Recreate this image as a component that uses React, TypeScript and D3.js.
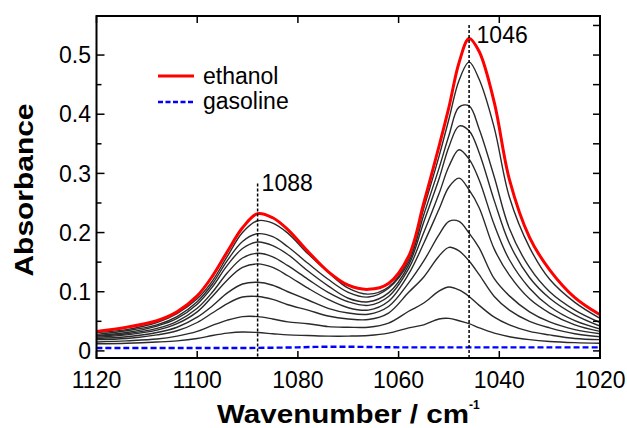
import React from "react";
import * as d3 from "d3";

// Wavenumber grid (cm-1) for the spectra
const wavenumbers = [1120, 1114, 1108, 1104, 1100, 1097, 1094, 1091, 1088, 1085, 1082, 1078, 1074, 1070, 1066, 1062, 1058, 1055, 1052, 1050, 1048, 1046, 1044, 1041, 1038, 1034, 1030, 1025, 1020];

// Pure ethanol (red)
const ethanol = [0.033, 0.040, 0.051, 0.066, 0.093, 0.126, 0.168, 0.208, 0.232, 0.225, 0.205, 0.168, 0.134, 0.111, 0.104, 0.114, 0.160, 0.250, 0.345, 0.412, 0.487, 0.528, 0.506, 0.420, 0.290, 0.192, 0.137, 0.090, 0.061];

// Ethanol–gasoline blends (black), highest to lowest
const blend1 = [0.031, 0.036, 0.048, 0.063, 0.088, 0.118, 0.160, 0.200, 0.220, 0.216, 0.199, 0.164, 0.133, 0.106, 0.096, 0.108, 0.155, 0.241, 0.328, 0.392, 0.457, 0.488, 0.459, 0.377, 0.260, 0.175, 0.121, 0.082, 0.055];
const blend2 = [0.028, 0.034, 0.044, 0.058, 0.083, 0.113, 0.153, 0.185, 0.198, 0.193, 0.176, 0.148, 0.121, 0.099, 0.091, 0.106, 0.150, 0.230, 0.308, 0.364, 0.412, 0.414, 0.375, 0.294, 0.207, 0.141, 0.100, 0.069, 0.048];
const blend3 = [0.026, 0.031, 0.042, 0.055, 0.079, 0.108, 0.145, 0.173, 0.184, 0.178, 0.163, 0.135, 0.110, 0.089, 0.083, 0.098, 0.145, 0.218, 0.290, 0.345, 0.380, 0.372, 0.335, 0.254, 0.182, 0.124, 0.089, 0.061, 0.042];
const blend4 = [0.025, 0.029, 0.038, 0.050, 0.072, 0.099, 0.132, 0.157, 0.165, 0.159, 0.144, 0.121, 0.099, 0.083, 0.077, 0.092, 0.139, 0.200, 0.265, 0.312, 0.340, 0.324, 0.289, 0.213, 0.154, 0.106, 0.075, 0.051, 0.037];
const blend5 = [0.023, 0.027, 0.035, 0.046, 0.066, 0.092, 0.120, 0.141, 0.147, 0.141, 0.127, 0.106, 0.087, 0.073, 0.069, 0.084, 0.130, 0.182, 0.239, 0.277, 0.292, 0.272, 0.242, 0.172, 0.128, 0.088, 0.064, 0.044, 0.033];
const blend6 = [0.021, 0.024, 0.031, 0.040, 0.057, 0.076, 0.098, 0.113, 0.116, 0.111, 0.100, 0.086, 0.072, 0.064, 0.062, 0.075, 0.115, 0.152, 0.196, 0.219, 0.219, 0.199, 0.174, 0.122, 0.093, 0.066, 0.049, 0.036, 0.029];
const blend7 = [0.019, 0.021, 0.027, 0.034, 0.048, 0.064, 0.080, 0.091, 0.092, 0.087, 0.078, 0.069, 0.059, 0.054, 0.053, 0.064, 0.099, 0.125, 0.160, 0.175, 0.169, 0.152, 0.129, 0.092, 0.069, 0.050, 0.039, 0.029, 0.024];
const blend8 = [0.015, 0.017, 0.020, 0.025, 0.033, 0.043, 0.052, 0.058, 0.058, 0.054, 0.049, 0.046, 0.041, 0.040, 0.040, 0.047, 0.067, 0.081, 0.101, 0.108, 0.103, 0.092, 0.077, 0.057, 0.044, 0.033, 0.027, 0.021, 0.019];
const blend9 = [0.012, 0.013, 0.015, 0.017, 0.021, 0.026, 0.030, 0.032, 0.031, 0.029, 0.027, 0.026, 0.025, 0.025, 0.026, 0.030, 0.039, 0.044, 0.054, 0.055, 0.051, 0.046, 0.039, 0.030, 0.024, 0.019, 0.016, 0.014, 0.013];

// Pure gasoline (blue dashed)
const gasolineWavenumbers = [1120, 1100, 1090, 1080, 1075, 1070, 1065, 1060, 1050, 1040, 1030, 1020];
const gasoline = [0.005, 0.005, 0.005, 0.006, 0.007, 0.007, 0.0065, 0.006, 0.006, 0.006, 0.006, 0.006];

// Axis ticks and labels
const xTicks = [1120, 1100, 1080, 1060, 1040, 1020];
const yMajorTicks = [0, 0.1, 0.2, 0.3, 0.4, 0.5];
const yMinorTicks = [0.05, 0.15, 0.25, 0.35, 0.45];
const yRightTicks = [0, 0.05, 0.1, 0.15, 0.2, 0.25, 0.3, 0.35, 0.4, 0.45, 0.5, 0.55];
const peakWavenumbers = [1088, 1046];
const peakLabels = ["1088", "1046"];
const peakLineTops = [0.283, 0.551];
const legendItems = ["ethanol", "gasoline"];

const blends = [blend1, blend2, blend3, blend4, blend5, blend6, blend7, blend8, blend9];

const W = 627;
const H = 428;
const left = 96.5;
const right = 600;
const top = 16;
const bottom = 358;
const FONT = "'Liberation Sans', Arial, Helvetica, sans-serif";
const peakLabelOffsets = [
  { dx: 4, dy: 8 },
  { dx: 7.5, dy: 18.5 },
];

export default function App() {
  const x = d3.scaleLinear().domain([1120, 1020]).range([left, right]);
  const y = d3.scaleLinear().domain([-0.012, 0.566]).range([bottom, top]);

  const line = d3
    .line<[number, number]>()
    .x((d) => x(d[0]))
    .y((d) => y(d[1]))
    .curve(d3.curveCatmullRom.alpha(0.5));

  const pts = (wn: number[], vals: number[]) => wn.map((w, i) => [w, vals[i]] as [number, number]);

  return (
    <svg
      width={W}
      height={H}
      style={{ position: "absolute", left: 0, top: 0, background: "#fff" }}
      fontFamily={FONT}
    >
      <rect x={0} y={0} width={W} height={H} fill="#fff" />
      <defs>
        <clipPath id="plot">
          <rect x={left} y={top} width={right - left} height={bottom - top} />
        </clipPath>
      </defs>

      <g clipPath="url(#plot)">
        {blends.map((b, i) => (
          <path key={i} d={line(pts(wavenumbers, b)) || ""} fill="none" stroke="#2a2a2a" strokeWidth={1.4} />
        ))}
        <path
          d={line(pts(gasolineWavenumbers, gasoline)) || ""}
          fill="none"
          stroke="#0000ff"
          strokeWidth={2.4}
          strokeDasharray="6,3"
        />
        <path d={line(pts(wavenumbers, ethanol)) || ""} fill="none" stroke="#ff0000" strokeWidth={3} />
      </g>

      {/* peak markers */}
      {peakWavenumbers.map((wn, i) => (
        <g key={wn}>
          <line
            x1={x(wn)}
            x2={x(wn)}
            y1={y(peakLineTops[i])}
            y2={bottom}
            stroke="#000"
            strokeWidth={1.5}
            strokeDasharray="3,2"
          />
          <text
            x={x(wn) + peakLabelOffsets[i].dx}
            y={y(peakLineTops[i]) + peakLabelOffsets[i].dy}
            fontSize={23}
            fill="#000"
          >
            {peakLabels[i]}
          </text>
        </g>
      ))}

      {/* frame */}
      <rect x={left} y={top} width={right - left} height={bottom - top} fill="none" stroke="#000" strokeWidth={2} />

      {/* x ticks */}
      {xTicks.map((t) => (
        <g key={t}>
          <line x1={x(t)} x2={x(t)} y1={bottom} y2={bottom - 7} stroke="#000" strokeWidth={1.5} />
          <line x1={x(t)} x2={x(t)} y1={top} y2={top + 7} stroke="#000" strokeWidth={1.5} />
          <text x={x(t)} y={388} textAnchor="middle" fontSize={23} fill="#000">
            {t}
          </text>
        </g>
      ))}

      {/* y ticks left */}
      {yMajorTicks.map((t) => (
        <g key={"M" + t}>
          <line x1={left} x2={left + 8} y1={y(t)} y2={y(t)} stroke="#000" strokeWidth={1.5} />
          <text x={91} y={y(t) + 8.2} textAnchor="end" fontSize={23} fill="#000">
            {t === 0 ? "0" : t.toFixed(1)}
          </text>
        </g>
      ))}
      {yMinorTicks.map((t) => (
        <line key={"m" + t} x1={left} x2={left + 5} y1={y(t)} y2={y(t)} stroke="#000" strokeWidth={1.5} />
      ))}
      {yRightTicks.map((t) => (
        <line key={"r" + t} x1={right} x2={right - 7} y1={y(t)} y2={y(t)} stroke="#000" strokeWidth={1.5} />
      ))}

      {/* legend */}
      <line x1={158} x2={194} y1={76} y2={76} stroke="#ff0000" strokeWidth={3} />
      <text x={203} y={83.5} fontSize={23} fill="#000">
        {legendItems[0]}
      </text>
      <line x1={158} x2={194} y1={102} y2={102} stroke="#0000ff" strokeWidth={2.4} strokeDasharray="5,2.5" />
      <text x={203} y={108.5} fontSize={23} fill="#000">
        {legendItems[1]}
      </text>

      {/* axis titles */}
      <text
        transform={`translate(33,190) rotate(-90)`}
        textAnchor="middle"
        fontSize={25.5}
        fontWeight="bold"
        fill="#000"
        textLength={173}
        lengthAdjust="spacingAndGlyphs"
      >
        Absorbance
      </text>
      <text x={217} y={423} fontSize={25.5} fontWeight="bold" fill="#000" textLength={252} lengthAdjust="spacingAndGlyphs">
        Wavenumber / cm
      </text>
      <text x={469} y={408.5} fontSize={12} fontWeight="bold" fill="#000">
        -1
      </text>
    </svg>
  );
}
